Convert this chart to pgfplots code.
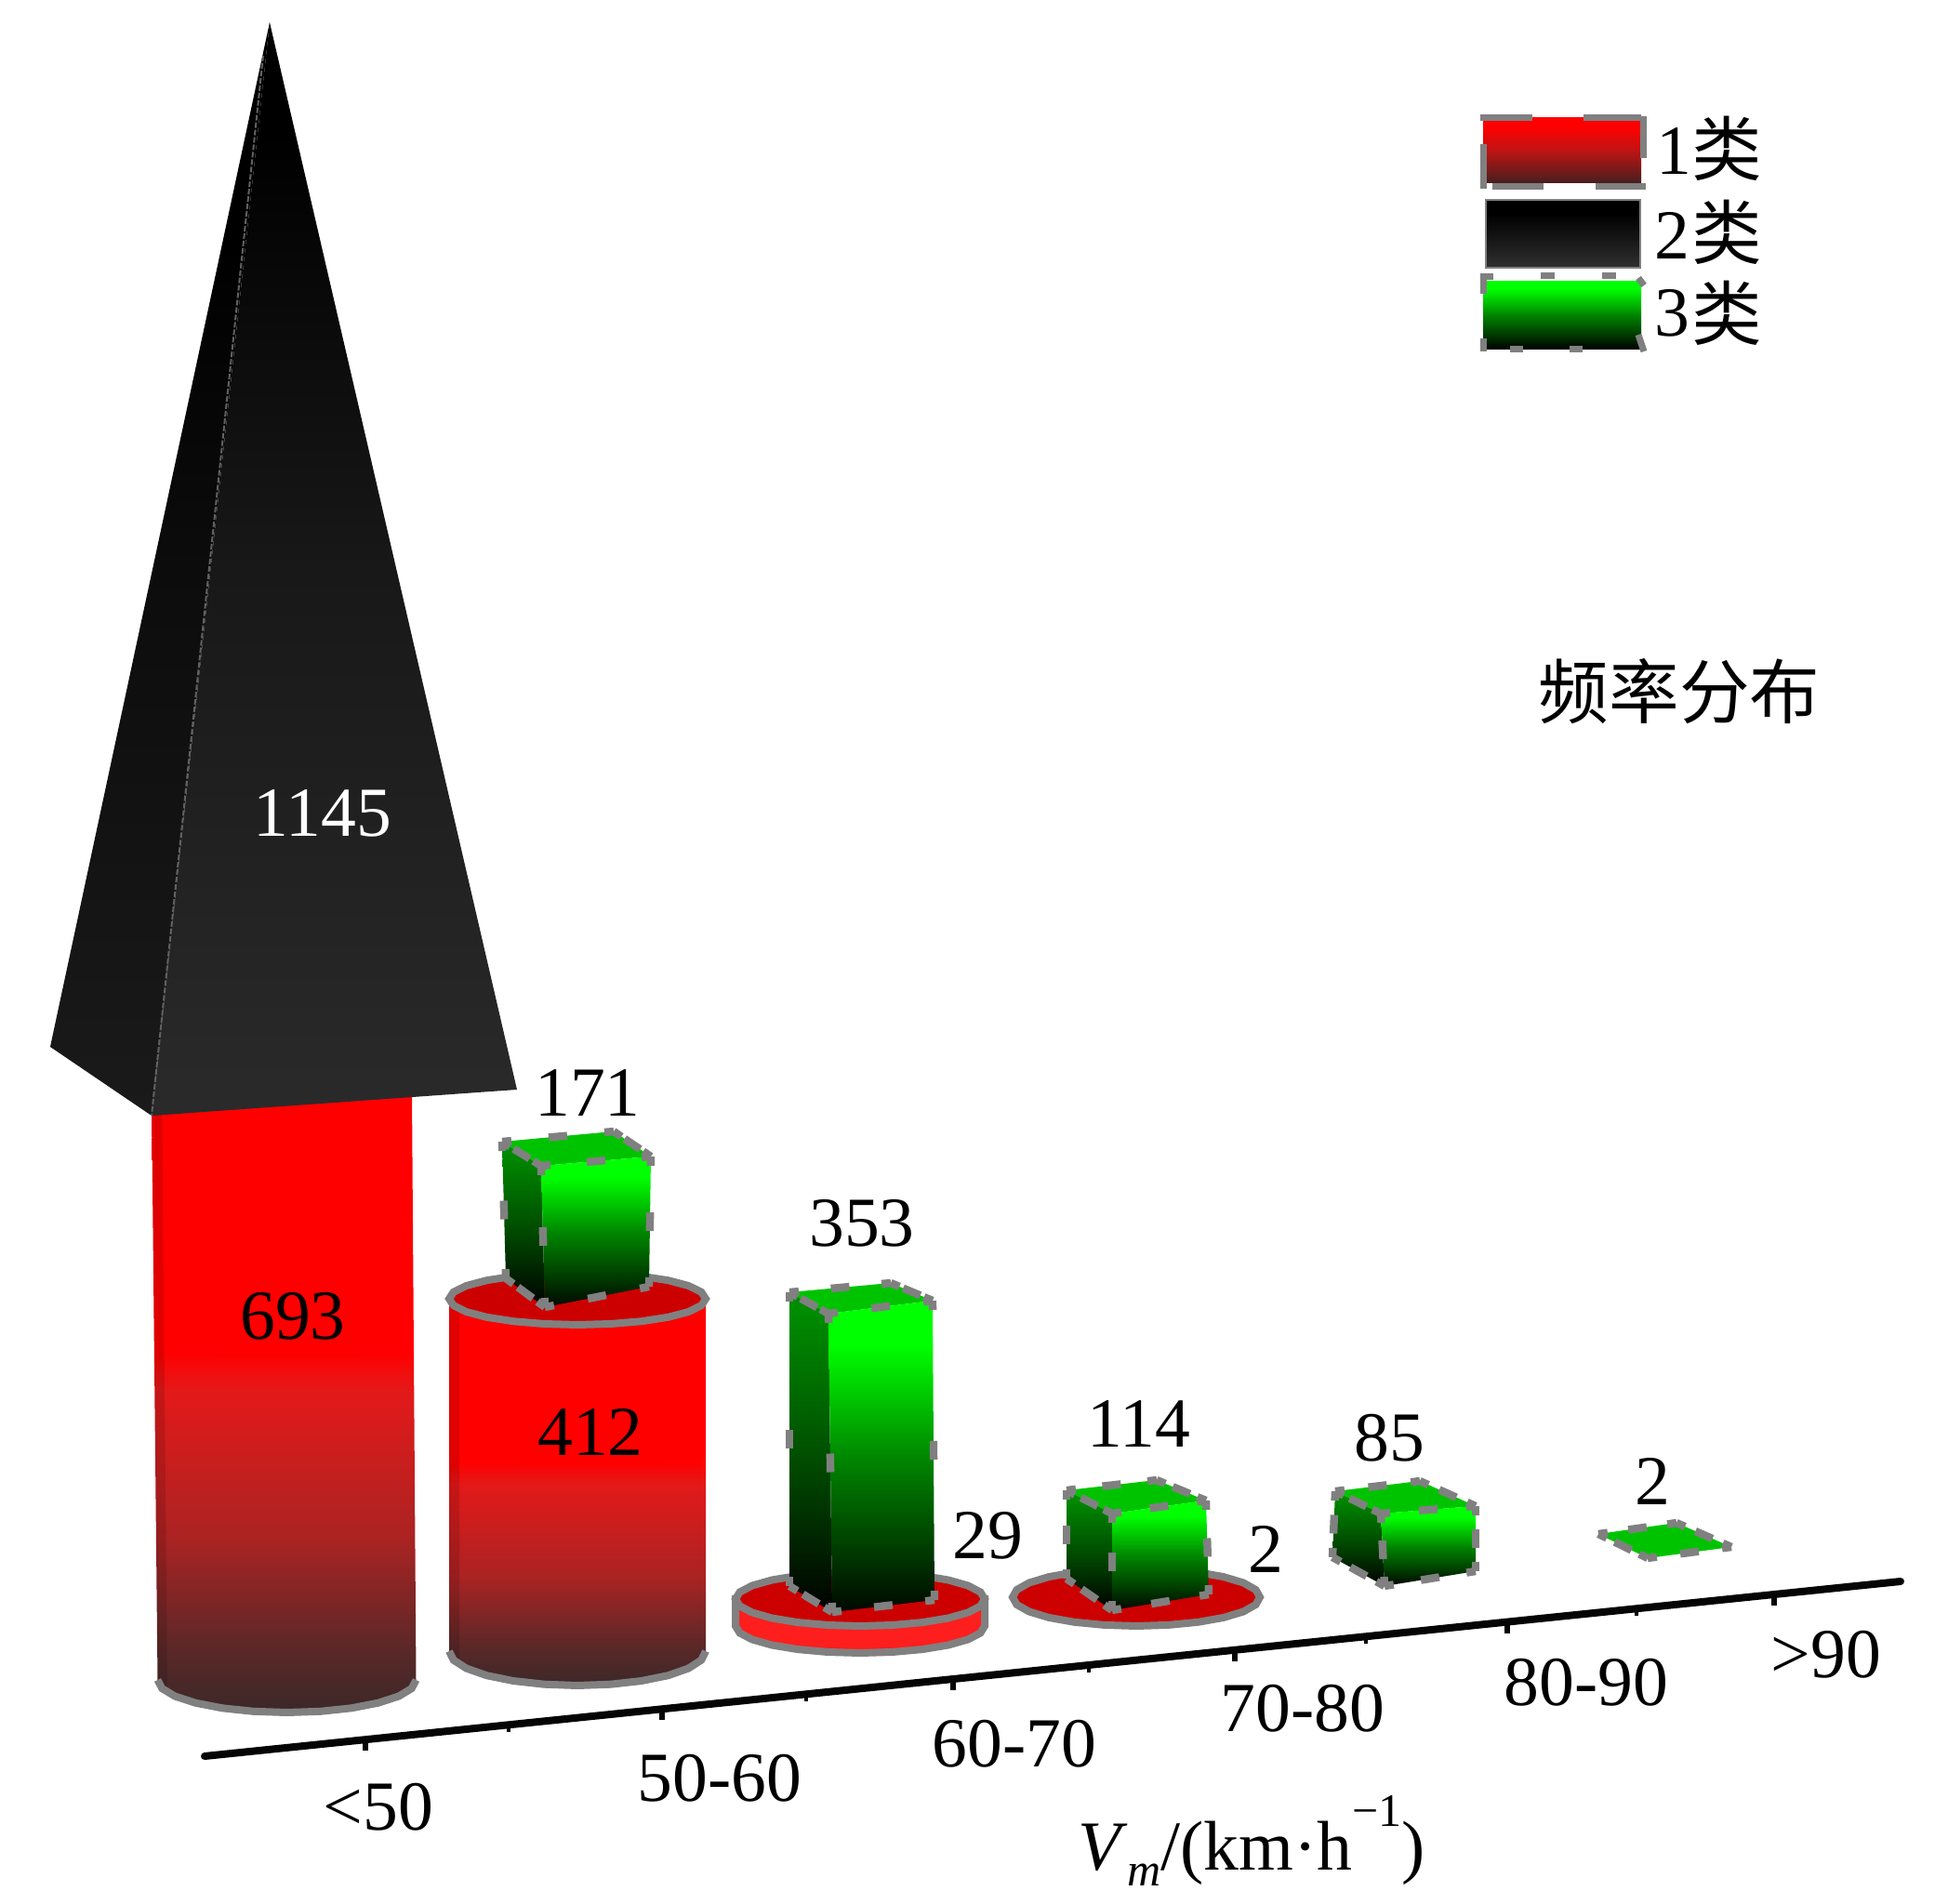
\documentclass[border=0pt]{standalone}
\usepackage{fontspec}
\usepackage{pgfplots}
\pgfplotsset{compat=1.18}
\setmainfont{Liberation Serif}
\newfontfamily\cjk{Noto Sans CJK SC}
\definecolor{hgray}{RGB}{128,128,128}
\definecolor{axblack}{RGB}{5,5,5}
\definecolor{topgreen}{RGB}{0,195,0}
\definecolor{rimred}{RGB}{205,0,0}
\definecolor{bandred}{RGB}{255,30,30}
% shadings: the path bounding box spans 25bp..75bp
\pgfdeclareverticalshading{cylred}{100bp}{rgb(0bp)=(.235,.157,.157);rgb(25bp)=(.235,.157,.157);rgb(30bp)=(.353,.157,.157);rgb(39bp)=(.667,.137,.137);rgb(51bp)=(.894,.098,.098);rgb(54bp)=(1,0,0);rgb(100bp)=(1,0,0)}
\pgfdeclareverticalshading{pyrR}{100bp}{rgb(0bp)=(.165,.165,.165);rgb(25bp)=(.165,.165,.165);rgb(50bp)=(.094,.094,.094);rgb(70bp)=(0,0,0);rgb(100bp)=(0,0,0)}
\pgfdeclareverticalshading{pyrL}{100bp}{rgb(0bp)=(.102,.102,.102);rgb(25bp)=(.102,.102,.102);rgb(50bp)=(.047,.047,.047);rgb(65bp)=(0,0,0);rgb(100bp)=(0,0,0)}
\pgfdeclareverticalshading{greenR}{100bp}{rgb(0bp)=(0,.03,0);rgb(25bp)=(0,.03,0);rgb(50bp)=(0,.53,0);rgb(68bp)=(0,1,0);rgb(100bp)=(0,1,0)}
\pgfdeclareverticalshading{greenL}{100bp}{rgb(0bp)=(0,0,0);rgb(25bp)=(0,0,0);rgb(50bp)=(0,.314,0);rgb(72bp)=(0,.549,0);rgb(100bp)=(0,.549,0)}
\pgfdeclareverticalshading{legred}{100bp}{rgb(0bp)=(.275,.118,.118);rgb(25bp)=(.275,.118,.118);rgb(50bp)=(.745,.078,.078);rgb(68bp)=(1,0,0);rgb(100bp)=(1,0,0)}
\pgfdeclareverticalshading{legblack}{100bp}{rgb(0bp)=(.188,.188,.188);rgb(25bp)=(.188,.188,.188);rgb(65bp)=(0,0,0);rgb(100bp)=(0,0,0)}
\pgfdeclareverticalshading{leggreen}{100bp}{rgb(0bp)=(0,0,0);rgb(25bp)=(0,0,0);rgb(50bp)=(0,.51,0);rgb(70bp)=(0,1,0);rgb(100bp)=(0,1,0)}
% an edge with selection handles at its two ends and at its middle
\newcommand\edge[4]{%
  \pgfmathsetmacro\edgelen{veclen(#3-#1,#4-#2)*0.5}%
  \pgfmathsetmacro\edgegap{max(\edgelen/2-10,1)}%
  \edef\tmpedge{\noexpand\addplot[hgray,line width=4.2pt,dash pattern=on 10pt off \edgegap pt,dash phase=5pt] coordinates {(#1,#2)(#3,#4)};}%
  \tmpedge}
\newcommand\seg[4]{\addplot[hgray,line width=3.5pt] coordinates {(#1,#2)(#3,#4)};}
\newcommand\lab[3]{\node[inner sep=0pt,#3] at (axis cs:#1) {#2};}
\begin{document}
\begin{tikzpicture}
\begin{axis}[
  scale only axis,width=1047.5pt,height=1024pt,
  xmin=0,xmax=2095,ymin=0,ymax=2048,y dir=reverse,
  hide axis,clip=true,unbounded coords=jump,
  nodes={font=\fontsize{37.8}{40}\selectfont}]
\addplot[draw=none] coordinates {(0,0)(2095,2048)};
% ---- cylinder 693
\addplot[draw=none,shade,shading=cylred] coordinates {(163,1175)(443,1175)(447.5,1807)(442.8,1816.1)(428.9,1824.5)(406.8,1831.7)(378,1837.3)(344.5,1840.8)(308.5,1842)(272.5,1840.8)(239,1837.3)(210.2,1831.7)(188.1,1824.5)(174.2,1816.1)(169.5,1807)} --cycle;
\addplot[draw=none,fill=black,opacity=.12] coordinates {(163,1175)(174,1175)(180,1818)(169.5,1807)} --cycle;
\addplot[hgray,line width=4pt] coordinates {(447.5,1807)(442.8,1816.1)(428.9,1824.5)(406.8,1831.7)(378,1837.3)(344.5,1840.8)(308.5,1842)(272.5,1840.8)(239,1837.3)(210.2,1831.7)(188.1,1824.5)(174.2,1816.1)(169.5,1807)};
\addplot[draw=none,fill=red] coordinates {(235,1368)(390,1368)(390,1460)(235,1460)} --cycle;
% ---- pyramid 1145
\addplot[draw=none,shade,shading=pyrL] coordinates {(290,24)(54,1126)(163,1200)} --cycle;
\addplot[draw=none,shade,shading=pyrR] coordinates {(290,24)(163,1200)(556,1172)} --cycle;
\addplot[black!62,line width=1pt,dash pattern=on 3pt off 1pt] coordinates {(283,60)(163,1200)};
% ---- cylinder 412
\addplot[draw=none,shade,shading=cylred] coordinates {(483,1397)(759,1397)(759,1776)(754.3,1785.6)(740.5,1794.5)(718.6,1802.2)(690,1808)(656.7,1811.7)(621,1813)(585.3,1811.7)(552,1808)(523.4,1802.2)(501.5,1794.5)(487.7,1785.6)(483,1776)} --cycle;
\addplot[draw=none,fill=black,opacity=.12] coordinates {(483,1397)(494,1397)(494,1788)(483,1776)} --cycle;
\addplot[hgray,line width=4pt] coordinates {(759,1776)(754.3,1785.6)(740.5,1794.5)(718.6,1802.2)(690,1808)(656.7,1811.7)(621,1813)(585.3,1811.7)(552,1808)(523.4,1802.2)(501.5,1794.5)(487.7,1785.6)(483,1776)};
\addplot[draw=none,fill=red] coordinates {(561,1502)(712,1502)(712,1578)(561,1578)} --cycle;
\addplot[hgray,line width=4pt,fill=rimred] coordinates {(759,1397)(754.3,1404.2)(740.5,1411)(718.6,1416.8)(690,1421.2)(656.7,1424)(621,1425)(585.3,1424)(552,1421.2)(523.4,1416.8)(501.5,1411)(487.7,1404.2)(483,1397)(487.7,1389.8)(501.5,1383)(523.4,1377.2)(552,1372.8)(585.3,1370)(621,1369)(656.7,1370)(690,1372.8)(718.6,1377.2)(740.5,1383)(754.3,1389.8)} --cycle;
% ---- box 171
\addplot[draw=none,fill=topgreen] coordinates {(540,1228)(660,1217)(700,1244)(582,1254)} --cycle;
\addplot[draw=none,shade,shading=greenL] coordinates {(540,1228)(582,1254)(586,1406)(544,1375)} --cycle;
\addplot[draw=none,shade,shading=greenR] coordinates {(582,1254)(700,1244)(698,1384)(586,1406)} --cycle;
\edge{540}{1228}{660}{1217}\edge{660}{1217}{700}{1244}\edge{700}{1244}{582}{1254}\edge{582}{1254}{540}{1228}
\edge{540}{1228}{544}{1375}\edge{582}{1254}{586}{1406}\edge{700}{1244}{698}{1384}\edge{544}{1375}{586}{1406}\edge{586}{1406}{698}{1384}
% ---- disk 29
\addplot[hgray,line width=4pt,fill=bandred] coordinates {(1059,1720)(1059,1749)(1054.4,1756.5)(1041,1763.5)(1019.8,1769.5)(992,1774.1)(959.7,1777)(925,1778)(890.3,1777)(858,1774.1)(830.2,1769.5)(809,1763.5)(795.6,1756.5)(791,1749)(791,1720)} --cycle;
\addplot[hgray,line width=4pt,fill=rimred] coordinates {(1059,1720)(1054.4,1727.5)(1041,1734.5)(1019.8,1740.5)(992,1745.1)(959.7,1748)(925,1749)(890.3,1748)(858,1745.1)(830.2,1740.5)(809,1734.5)(795.6,1727.5)(791,1720)(795.6,1712.5)(809,1705.5)(830.2,1699.5)(858,1694.9)(890.3,1692)(925,1691)(959.7,1692)(992,1694.9)(1019.8,1699.5)(1041,1705.5)(1054.4,1712.5)} --cycle;
% ---- box 353
\addplot[draw=none,fill=topgreen] coordinates {(849,1390)(958,1380)(1003,1399)(891,1413)} --cycle;
\addplot[draw=none,shade,shading=greenL] coordinates {(849,1390)(891,1413)(895,1734)(849,1706)} --cycle;
\addplot[draw=none,shade,shading=greenR] coordinates {(891,1413)(1003,1399)(1005,1721)(895,1734)} --cycle;
\edge{849}{1390}{958}{1380}\edge{958}{1380}{1003}{1399}\edge{1003}{1399}{891}{1413}\edge{891}{1413}{849}{1390}
\edge{849}{1390}{849}{1706}\edge{891}{1413}{895}{1734}\edge{1003}{1399}{1005}{1721}\edge{849}{1706}{895}{1734}\edge{895}{1734}{1005}{1721}
% ---- disk 2
\addplot[hgray,line width=4pt,fill=rimred] coordinates {(1355,1718)(1350.5,1726)(1337.2,1733.5)(1316,1739.9)(1288.5,1744.8)(1256.4,1747.9)(1222,1749)(1187.6,1747.9)(1155.5,1744.8)(1128,1739.9)(1106.8,1733.5)(1093.5,1726)(1089,1718)(1093.5,1710)(1106.8,1702.5)(1128,1696.1)(1155.5,1691.2)(1187.6,1688.1)(1222,1687)(1256.4,1688.1)(1288.5,1691.2)(1316,1696.1)(1337.2,1702.5)(1350.5,1710)} --cycle;
% ---- box 114
\addplot[draw=none,fill=topgreen] coordinates {(1147,1603)(1244,1592)(1297,1614)(1196,1628)} --cycle;
\addplot[draw=none,shade,shading=greenL] coordinates {(1147,1603)(1196,1628)(1196,1732)(1147,1698)} --cycle;
\addplot[draw=none,shade,shading=greenR] coordinates {(1196,1628)(1297,1614)(1300,1715)(1196,1732)} --cycle;
\edge{1147}{1603}{1244}{1592}\edge{1244}{1592}{1297}{1614}\edge{1297}{1614}{1196}{1628}\edge{1196}{1628}{1147}{1603}
\edge{1147}{1603}{1147}{1698}\edge{1196}{1628}{1196}{1732}\edge{1297}{1614}{1300}{1715}\edge{1147}{1698}{1196}{1732}\edge{1196}{1732}{1300}{1715}
% ---- box 85
\addplot[draw=none,fill=topgreen] coordinates {(1436,1604)(1527,1593)(1587,1620)(1485,1628)} --cycle;
\addplot[draw=none,shade,shading=greenL] coordinates {(1436,1604)(1485,1628)(1489,1706)(1433,1675)} --cycle;
\addplot[draw=none,shade,shading=greenR] coordinates {(1485,1628)(1587,1620)(1587,1690)(1489,1706)} --cycle;
\edge{1436}{1604}{1527}{1593}\edge{1527}{1593}{1587}{1620}\edge{1587}{1620}{1485}{1628}\edge{1485}{1628}{1436}{1604}
\edge{1436}{1604}{1433}{1675}\edge{1485}{1628}{1489}{1706}\edge{1587}{1620}{1587}{1690}\edge{1433}{1675}{1489}{1706}\edge{1489}{1706}{1587}{1690}
% ---- flat box 2
\addplot[draw=none,fill=topgreen] coordinates {(1719,1650)(1803,1638)(1862,1664)(1772,1676)} --cycle;
\edge{1719}{1650}{1803}{1638}\edge{1803}{1638}{1862}{1664}\edge{1862}{1664}{1772}{1676}\edge{1772}{1676}{1719}{1650}
% ---- axis line and ticks
\addplot[axblack,line width=4pt,line cap=round] coordinates {(220,1889)(2044,1701)};
\addplot[axblack,line width=2.6pt] coordinates {(393,1871)(393,1883)(nan,nan)(712,1838)(712,1850)(nan,nan)(1025,1806)(1025,1818)(nan,nan)(1328,1775)(1328,1787)(nan,nan)(1621,1745)(1621,1757)(nan,nan)(1908,1715)(1908,1727)};
\addplot[axblack,line width=2pt] coordinates {(547,1855)(547,1863)(nan,nan)(867,1822)(867,1830)(nan,nan)(1171,1791)(1171,1799)(nan,nan)(1469,1760)(1469,1768)(nan,nan)(1760,1730)(1760,1738)};
% ---- legend
\addplot[draw=none,shade,shading=legred] coordinates {(1595,127)(1765,127)(1765,197)(1595,197)} --cycle;
\seg{1592}{127}{1648}{127}\seg{1703}{127}{1765}{127}\seg{1767}{125}{1767}{170}\seg{1595}{155}{1595}{203}\seg{1605}{201}{1660}{201}\seg{1716}{201}{1770}{201}
\addplot[draw=black!50,line width=1.2pt,shade,shading=legblack] coordinates {(1598,215)(1764,215)(1764,288)(1598,288)} --cycle;
\addplot[draw=none,shade,shading=leggreen] coordinates {(1595,303)(1765,303)(1765,376)(1595,376)} --cycle;
\seg{1592}{298}{1606}{298}\seg{1657}{297}{1672}{297}\seg{1723}{297}{1738}{297}\seg{1762}{299}{1768}{307}\seg{1595}{300}{1595}{316}
\seg{1595}{364}{1595}{378}\seg{1624}{376}{1638}{376}\seg{1688}{376}{1702}{376}\seg{1762}{360}{1768}{378}
% ---- data labels
\lab{632,1176}{171}{}
\lab{927,1316}{353}{}
\lab{1062,1652}{29}{}
\lab{1225,1532}{114}{}
\lab{1361,1666}{2}{}
\lab{1494,1547}{85}{}
\lab{1777,1593}{2}{}
\lab{315,1416}{693}{}
\lab{635,1540}{412}{}
\lab{347,875}{1145}{text=white}
% ---- category labels
\lab{407,1944}{<50}{}
\lab{774,1913}{50-60}{}
\lab{1091,1876}{60-70}{}
\lab{1401,1838}{70-80}{}
\lab{1706,1810}{80-90}{}
\lab{1964,1780}{>90}{}
\lab{1346,1980}{\textit{V}\raisebox{-0.22em}{\fontsize{25}{27}\selectfont\textit{m}}/(km·h\raisebox{0.62em}{\fontsize{25}{27}\selectfont −1})}{}
% ---- legend labels and caption
\lab{1800,163}{1}{}\lab{1798,253}{2}{}\lab{1798,337}{3}{}
\lab{1857,160}{\cjk 类}{}\lab{1857,250}{\cjk 类}{}\lab{1857,337}{\cjk 类}{}
\lab{1806,744}{\cjk 频率分布}{}
\end{axis}
\end{tikzpicture}
\end{document}
